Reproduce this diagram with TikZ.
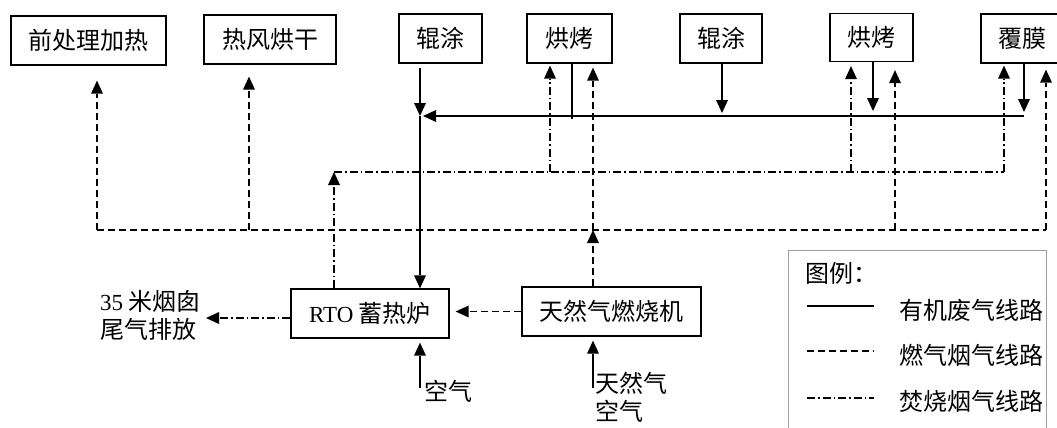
\documentclass[tikz,border=0pt]{standalone}
\usepackage{fontspec}
\setmainfont{Liberation Serif}
\newfontfamily\cjk{Noto Sans CJK SC}
\usetikzlibrary{arrows.meta}
\begin{document}
\begin{tikzpicture}[x=1pt,y=-1pt,
  box/.style={draw, line width=1.3pt, inner sep=0pt, minimum height=49pt, font=\cjk\fontsize{24}{28}\selectfont},
  lbl/.style={inner sep=0pt, font=\cjk\fontsize{24}{28}\selectfont, align=left},
  arr/.style={-{Triangle[length=13pt,width=12pt,line width=0pt]}},
  org/.style={line width=1.3pt},
  gas/.style={line width=1.2pt, dash pattern=on 7pt off 4pt},
  inc/.style={line width=1.2pt, dash pattern=on 8pt off 3pt on 1.5pt off 3pt},
]
\clip (0,0) rectangle (1057,428);
\fill[white] (0,0) rectangle (1057,428);

% boxes
\node[box, minimum width=155pt] (n1) at (88.5,40.5) {前处理加热};
\node[box, minimum width=132pt] (n2) at (270,39.5) {热风烘干};
\node[box, minimum width=83pt] (n3) at (440.5,38.5) {辊涂};
\node[box, minimum width=85pt] (n4) at (569.5,38.5) {烘烤};
\node[box, minimum width=82pt] (n5) at (721,38.5) {辊涂};
\node[box, minimum width=83pt, minimum height=48pt] (n6) at (871.5,37.5) {烘烤};
\node[box, minimum width=82pt] (n7) at (1022,38.5) {覆膜};
\node[box, minimum width=158pt] (rto) at (370,313.5) {{\rmfamily\fontsize{23}{26}\selectfont RTO} 蓄热炉};
\node[box, minimum width=179pt] (burner) at (611.5,311.5) {天然气燃烧机};

% labels
\node[lbl, anchor=west] (stack) at (100,315) {{\rmfamily\fontsize{23}{28}\selectfont 35} 米烟囱\\尾气排放};
\node[lbl, anchor=west] (air1) at (424,391) {空气};
\node[lbl, anchor=west] (air2) at (595,397) {天然气\\空气};

% column coordinates
\coordinate (J) at (420,116);
\coordinate (R) at (1024,116);
\coordinate (B1) at (572,119);
\coordinate (x722) at (722,0);
\coordinate (x873) at (873,0);
\coordinate (D) at (334,172);
\coordinate (DR) at (1004,172);
\coordinate (x550) at (550,0);
\coordinate (x851) at (851,0);
\coordinate (G) at (593,230);
\coordinate (GL) at (97,230);
\coordinate (GR) at (1046,230);
\coordinate (x249) at (249,0);
\coordinate (x895) at (895,0);
\coordinate (SA) at (206,318);
\coordinate (A1) at (420,388);
\coordinate (A2) at (593,388);

% organic waste gas (solid)
\draw[org,arr,shorten <=4pt] (n3.south -| J) -- (J);
\draw[org,arr] (J) -- (rto.north -| J);
\draw[org,arr,shorten >=3pt] (R) -- (J);
\draw[org] (n4.south -| B1) -- (B1);
\draw[org,arr,shorten >=3pt] (n5.south -| x722) -- (x722 |- J);
\draw[org,arr,shorten >=5pt] (n6.south -| x873) -- (x873 |- J);
\draw[org,arr,shorten >=4pt] (n7.south -| R) -- (R);

% incineration flue gas (dash-dot)
\draw[inc,arr] (rto.north -| D) -- (D);
\draw[inc] (D) -- (DR);
\draw[inc,arr,shorten >=2pt] (x550 |- D) -- (n4.south -| x550);
\draw[inc,arr,shorten >=4pt] (x851 |- D) -- (n6.south -| x851);
\draw[inc,arr,shorten >=2pt] (DR) -- (n7.south -| DR);
\draw[inc,arr] (rto.west |- SA) -- (SA);

% fuel flue gas (dashed)
\draw[gas,arr] (burner.north -| G) -- (G);
\draw[gas,arr,shorten >=4pt] (G) -- (n4.south -| G);
\draw[gas] (GL) -- (GR);
\draw[gas,arr,shorten >=15pt] (GL) -- (n1.south -| GL);
\draw[gas,arr,shorten >=12pt] (x249 |- G) -- (n2.south -| x249);
\draw[gas,arr,shorten >=8pt] (x895 |- G) -- (n6.south -| x895);
\draw[gas,arr,shorten >=6pt] (GR) -- (n7.south -| GR);
\draw[gas,arr,shorten >=6pt] (burner.west) -- (burner.west -| rto.east);

% air
\draw[org,arr,shorten >=4pt] (A1) -- (rto.south -| A1);
\draw[org,arr,shorten >=4pt] (A2) -- (burner.south -| A2);

% legend
\node[draw=gray!75, line width=1.3pt, minimum width=258pt, minimum height=200pt, anchor=north west] (leg) at (788,250) {};
\node[lbl, anchor=west] (legt) at (805,273) {图例：};
\coordinate (L1a) at (807,306); \coordinate (L1b) at (874,306);
\coordinate (L2a) at (807,351); \coordinate (L2b) at (874,351);
\coordinate (L3a) at (807,398); \coordinate (L3b) at (874,398);
\draw[org] (L1a) -- (L1b);
\draw[gas] (L2a) -- (L2b);
\draw[inc] (L3a) -- (L3b);
\node[lbl, anchor=west] (lt1) at (899,310) {有机废气线路};
\node[lbl, anchor=west] (lt2) at (899,355) {燃气烟气线路};
\node[lbl, anchor=west] (lt3) at (899,401) {焚烧烟气线路};
\end{tikzpicture}
\end{document}
